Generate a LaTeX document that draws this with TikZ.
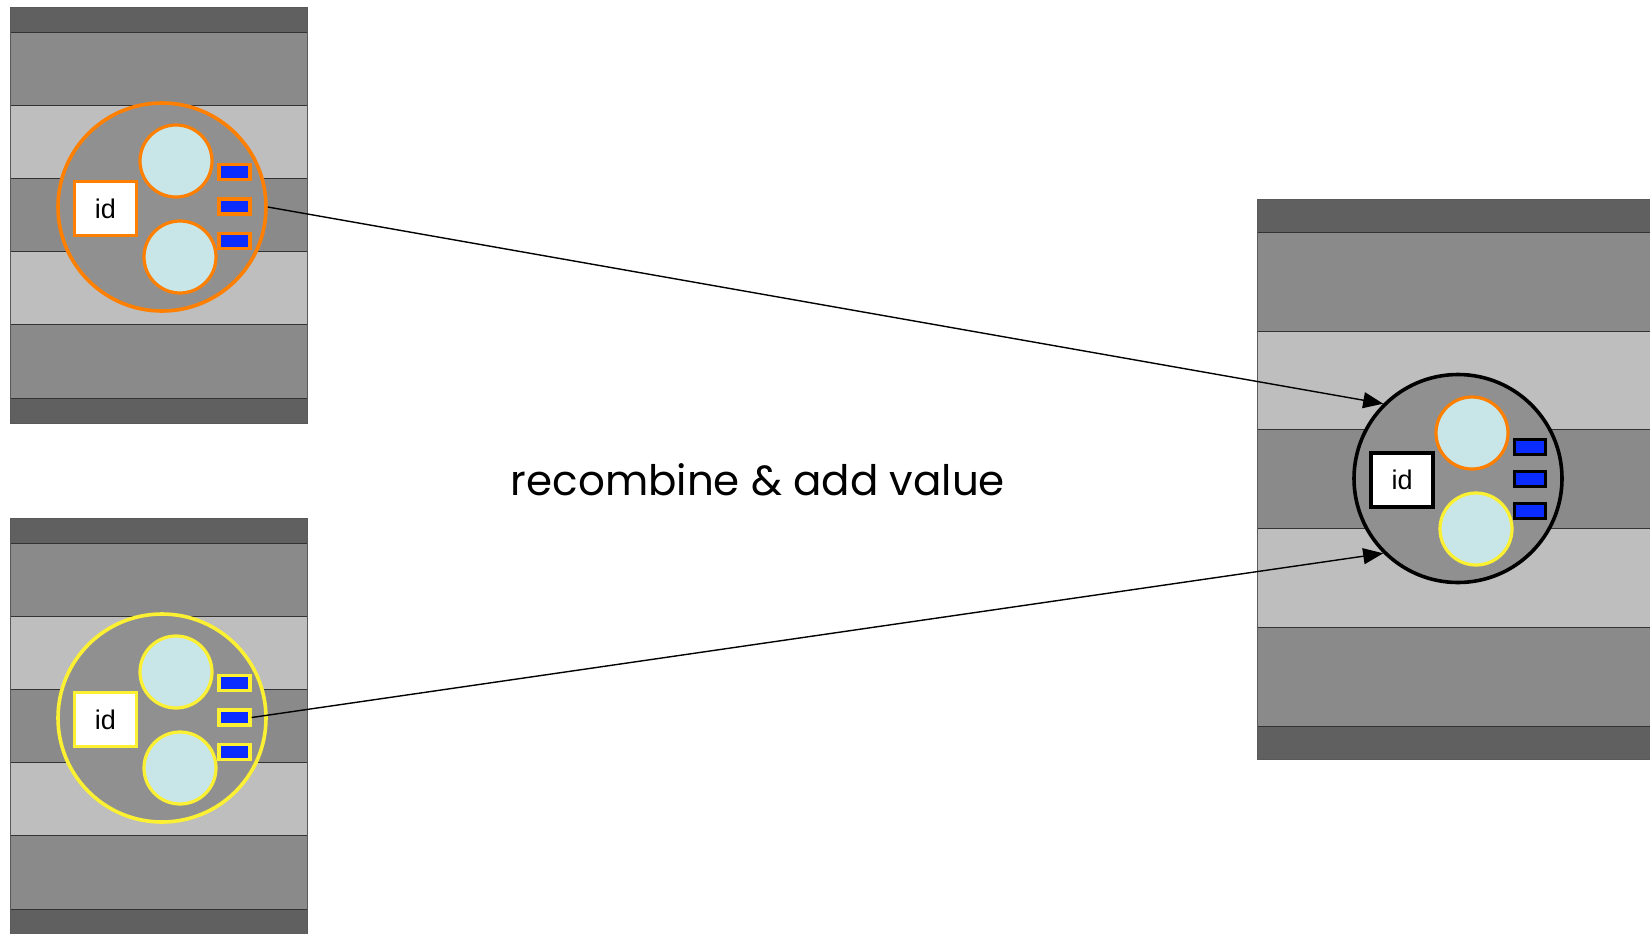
\documentclass[tikz,border=0pt]{standalone}
\usepackage{fontspec}
\setmainfont{Liberation Sans}
\newfontfamily\handfont{Poppins}
\usepackage{tikz}
\usetikzlibrary{arrows.meta,positioning}
\definecolor{bandDark}{HTML}{5F605F}
\definecolor{bandMid}{HTML}{8A8A8A}
\definecolor{bandLight}{HTML}{BEBEBE}
\definecolor{cellGray}{HTML}{909090}
\definecolor{fragBlue}{HTML}{C8E5E8}
\definecolor{portBlue}{HTML}{0A2CFF}
\definecolor{orange}{HTML}{FF7F00}
\definecolor{yellow}{HTML}{FCF032}
\tikzset{
  band/.style={draw=black!80,line width=.5pt},
  cell/.style={
    circle,fill=cellGray,line width=1.8pt,
    minimum size=104pt,inner sep=0pt
  },
  fragment/.style={
    circle,fill=fragBlue,line width=1.6pt,
    minimum size=36pt,inner sep=0pt
  },
  idbox/.style={
    rectangle,fill=white,line width=1.6pt,
    minimum width=31pt,minimum height=27pt,inner sep=0pt,
    font=\fontsize{13.5}{14}\selectfont
  },
  port/.style={
    rectangle,fill=portBlue,line width=1.6pt,
    minimum width=15.5pt,minimum height=7.5pt,inner sep=0pt
  },
  arrow/.style={-{Triangle[length=10pt,width=8pt]},draw=black,line width=.7pt}
}

\begin{document}
\begin{tikzpicture}[x=0.5pt,y=-0.5pt]
\useasboundingbox (0,0) rectangle (1650,933);

% the two source strands
\foreach \name/\dy/\col in {top/0/orange,bot/511/yellow}{
  \begin{scope}[yshift=-\dy*0.5pt]
    \fill[bandDark]  (10,7)   rectangle (307,32);
    \fill[bandMid]   (10,32)  rectangle (307,105);
    \fill[bandLight] (10,105) rectangle (307,178);
    \fill[bandMid]   (10,178) rectangle (307,251);
    \fill[bandLight] (10,251) rectangle (307,324);
    \fill[bandMid]   (10,324) rectangle (307,398);
    \fill[bandDark]  (10,398) rectangle (307,423);
    \foreach \y in {32,105,178,251,324,398}
      \draw[band] (10,\y) -- (307,\y);
    \draw[band,draw=black!65] (10,7) rectangle (307,423);

    \node[cell,draw=\col] (\name-cell) at (162,207) {};
    \node[idbox,draw=\col] (\name-id) at (105.5,208.5) {id};
    \node[fragment,draw=\col] (\name-fragA) at (176,161) {};
    \node[fragment,draw=\col] (\name-fragB) at (180,257) {};
    \node[port,draw=\col] (\name-port2) at (234.5,206.5) {};
    \node[port,draw=\col,above=8pt of \name-port2] (\name-port1) {};
    \node[port,draw=\col,below=8pt of \name-port2] (\name-port3) {};
  \end{scope}
}

% the recombined strand
\fill[bandDark]  (1257,199) rectangle (1660,232);
\fill[bandMid]   (1257,232) rectangle (1660,331);
\fill[bandLight] (1257,331) rectangle (1660,429);
\fill[bandMid]   (1257,429) rectangle (1660,528);
\fill[bandLight] (1257,528) rectangle (1660,627);
\fill[bandMid]   (1257,627) rectangle (1660,726);
\fill[bandDark]  (1257,726) rectangle (1660,759);
\foreach \y in {232,331,429,528,627,726}
  \draw[band] (1257,\y) -- (1660,\y);
\draw[band,draw=black!65] (1257,199) rectangle (1660,759);

\node[cell,draw=black] (merged) at (1458,478.5) {};
\node[idbox,draw=black] (merged-id) at (1402,480) {id};
\node[fragment,draw=orange] (merged-fragA) at (1472,433) {};
\node[fragment,draw=yellow] (merged-fragB) at (1476,529) {};
\node[port,draw=black] (merged-port2) at (1530,479) {};
\node[port,draw=black,above=7pt of merged-port2] (merged-port1) {};
\node[port,draw=black,below=7pt of merged-port2] (merged-port3) {};

\node[font=\handfont\fontsize{21}{24}\selectfont,anchor=base] (note) at (758,495) {recombine \& add value};

\draw[arrow] (top-cell.east) -- (merged.135);
\draw[arrow] (bot-port2.east) -- (merged.225);
\end{tikzpicture}
\end{document}
